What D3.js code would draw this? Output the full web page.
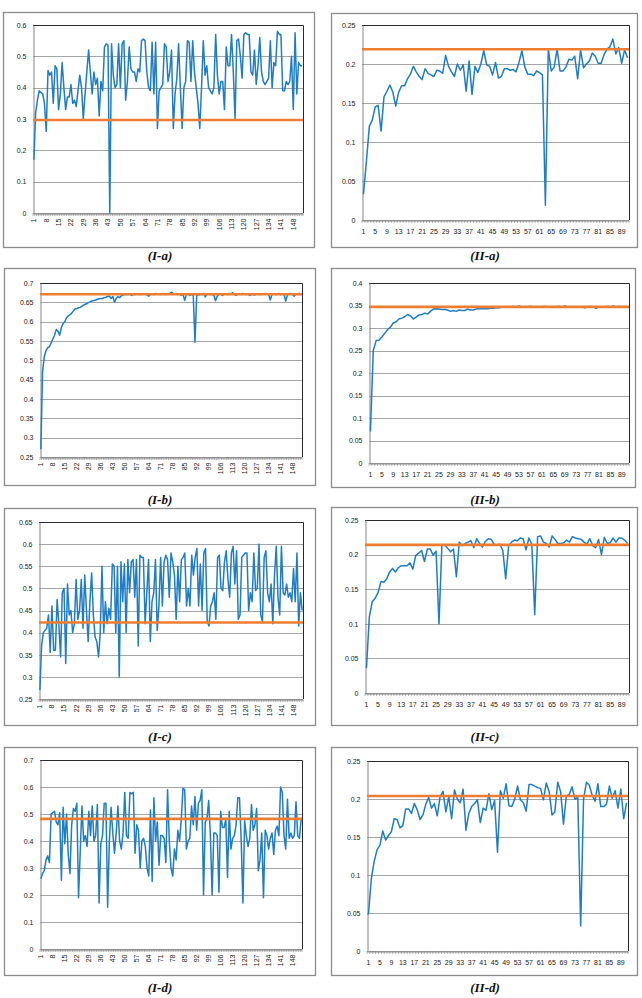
<!DOCTYPE html>
<html><head><meta charset="utf-8">
<script src="https://cdn.jsdelivr.net/npm/d3@7"></script>
<style>body{margin:0;background:#fff}svg{display:block}</style>
</head><body><svg id="c" width="642" height="998"></svg>
<script>
// ---------- DATA ----------
const iaValues=[0.17,0.32,0.36,0.39,0.385,0.38,0.35,0.26,0.455,0.44,
0.45,0.35,0.47,0.46,0.33,0.38,0.48,0.40,0.33,0.37,
0.37,0.41,0.35,0.36,0.34,0.39,0.44,0.40,0.30,0.38,
0.45,0.52,0.45,0.38,0.45,0.41,0.43,0.31,0.42,0.39,
0.53,0.54,0.535,0.0,0.54,0.44,0.40,0.41,0.54,0.40,
0.54,0.55,0.36,0.42,0.53,0.46,0.45,0.45,0.42,0.46,
0.45,0.55,0.555,0.55,0.45,0.40,0.39,0.545,0.38,0.545,
0.27,0.39,0.40,0.41,0.54,0.53,0.42,0.45,0.52,0.27,
0.38,0.43,0.54,0.40,0.27,0.40,0.42,0.55,0.545,0.42,
0.55,0.45,0.40,0.35,0.27,0.40,0.55,0.44,0.47,0.40,
0.39,0.38,0.40,0.57,0.44,0.38,0.42,0.42,0.33,0.53,
0.47,0.47,0.57,0.45,0.30,0.55,0.555,0.50,0.43,0.57,
0.575,0.57,0.57,0.45,0.44,0.52,0.41,0.47,0.56,0.45,
0.42,0.41,0.42,0.43,0.55,0.40,0.48,0.47,0.58,0.57,
0.57,0.39,0.39,0.42,0.41,0.42,0.50,0.33,0.575,0.38,
0.48,0.47,0.47];
const iaRef=0.297;

const iiaValues=[0.033,0.075,0.12,0.128,0.145,0.147,0.114,0.158,0.165,0.173,
0.164,0.146,0.164,0.172,0.172,0.181,0.187,0.197,0.190,0.184,
0.180,0.194,0.188,0.186,0.184,0.192,0.191,0.188,0.211,0.197,
0.190,0.184,0.200,0.192,0.199,0.165,0.204,0.161,0.197,0.189,
0.200,0.217,0.199,0.197,0.186,0.202,0.182,0.184,0.194,0.194,
0.192,0.193,0.190,0.202,0.217,0.196,0.187,0.187,0.185,0.191,
0.189,0.186,0.019,0.219,0.191,0.196,0.219,0.191,0.191,0.196,
0.206,0.205,0.210,0.181,0.218,0.195,0.200,0.204,0.214,0.210,
0.201,0.201,0.212,0.219,0.222,0.232,0.213,0.221,0.201,0.218,
0.208];
const iiaRef=0.219;

const ibValues=[0.27,0.47,0.51,0.525,0.533,0.535,0.545,0.555,0.565,0.58,
0.575,0.565,0.585,0.595,0.60,0.61,0.615,0.618,0.622,0.628,
0.633,0.634,0.636,0.637,0.64,0.643,0.645,0.647,0.65,0.652,
0.654,0.655,0.656,0.658,0.659,0.66,0.66,0.662,0.663,0.665,
0.666,0.66,0.665,0.65,0.66,0.665,0.662,0.667,
0.669,0.670,0.671,0.670,0.672,0.668,0.671,0.670,0.672,0.671,0.670,0.672,
0.671,0.673,0.669,0.666,0.671,0.672,0.670,0.673,0.671,0.672,0.670,0.673,
0.671,0.670,0.672,0.671,0.676,0.674,0.671,0.673,0.670,0.672,0.668,0.671,
0.655,0.670,0.672,0.668,0.671,0.667,0.547,0.668,0.669,0.671,0.670,0.673,
0.664,0.671,0.672,0.670,0.671,0.669,0.654,0.666,0.671,0.672,0.668,0.671,
0.672,0.670,0.673,0.671,0.675,0.670,0.668,0.671,0.672,0.670,0.673,0.671,
0.670,0.672,0.668,0.671,0.670,0.669,0.672,0.671,0.670,0.672,0.671,0.673,
0.672,0.670,0.656,0.671,0.672,0.670,0.671,0.673,0.670,0.672,0.671,0.653,
0.669,0.672,0.673,0.671,0.666,0.672,0.671,0.673,0.670];
const ibRef=0.671;

const iibValues=[0.07,0.25,0.272,0.273,0.28,0.288,0.296,0.302,0.311,0.314,
0.32,0.322,0.325,0.33,0.327,0.32,0.324,0.329,0.33,0.333,
0.331,0.337,0.342,0.343,0.342,0.341,0.341,0.340,0.337,0.339,
0.337,0.340,0.339,0.339,0.342,0.340,0.340,0.342,0.343,0.343,
0.343,0.343,0.344,0.344,0.345,
0.345,0.346,0.347,0.346,0.347,0.348,0.347,0.349,0.347,0.346,
0.347,0.348,0.347,0.346,0.347,0.347,0.348,0.347,0.346,0.347,
0.347,0.348,0.347,0.349,0.347,0.346,0.347,0.347,0.346,0.347,
0.345,0.347,0.348,0.347,0.344,0.347,0.346,0.347,0.348,0.347,
0.349,0.347,0.348,0.347,0.348,0.347];
const iibRef=0.347;

const icValues=[0.27,0.37,0.40,0.405,0.41,0.44,0.355,0.46,0.36,0.36,0.475,0.42,0.345,0.49,0.50,0.33,0.51,
0.44,0.45,0.40,0.42,0.52,0.43,0.45,0.52,0.41,0.53,
0.45,0.38,0.47,0.535,0.44,0.39,0.38,0.345,0.40,0.55,
0.40,0.47,0.42,0.455,0.43,0.555,0.55,0.40,0.55,0.30,
0.56,0.47,0.555,0.40,0.565,0.49,0.56,0.565,0.48,0.565,
0.37,0.575,0.57,0.57,0.42,0.49,0.565,0.38,0.47,
0.49,0.565,0.405,0.46,0.57,0.46,0.56,0.575,0.565,0.48,
0.58,0.56,0.53,0.43,0.55,0.47,0.565,0.57,0.58,0.46,
0.50,0.46,0.575,0.53,0.57,0.59,0.46,0.555,0.45,0.58,
0.59,0.425,0.415,0.46,0.47,0.49,0.43,0.57,0.575,0.50,
0.495,0.56,0.585,0.52,0.48,0.58,0.595,0.51,0.585,0.43,
0.44,0.57,0.575,0.58,0.58,0.45,0.49,0.47,0.58,0.495,
0.50,0.60,0.44,0.425,0.57,0.585,0.49,0.47,0.51,0.42,
0.53,0.595,0.48,0.44,0.595,0.49,0.485,0.51,0.48,0.49,
0.47,0.545,0.47,0.58,0.415,0.49,0.45];
const icRef=0.423;

const iicValues=[0.036,0.11,0.132,0.137,0.145,0.161,0.160,0.165,0.175,0.180,
0.175,0.181,0.184,0.184,0.184,0.188,0.179,0.199,0.202,0.206,
0.190,0.208,0.208,0.199,0.205,0.10,0.213,0.214,0.209,0.204,
0.208,0.168,0.218,0.213,0.216,0.218,0.220,0.210,0.223,0.216,
0.211,0.219,0.223,0.222,0.215,0.214,0.215,0.206,0.165,0.212,
0.218,0.221,0.220,0.224,0.223,0.207,0.224,0.215,0.113,0.226,
0.227,0.218,0.216,0.211,0.227,0.222,0.216,0.216,0.217,0.221,
0.218,0.226,0.224,0.223,0.222,0.218,0.215,0.223,0.213,0.210,
0.222,0.200,0.225,0.216,0.217,0.224,0.218,0.224,0.224,0.221,
0.216];
const iicRef=0.214;

const idValues=[0.26,0.28,0.29,0.33,0.345,0.32,0.50,0.505,0.51,0.47,
0.46,0.505,0.255,0.525,0.39,0.50,0.35,0.28,0.46,0.52,
0.51,0.54,0.19,0.36,0.53,0.40,0.42,0.38,0.51,0.42,
0.53,0.40,0.42,0.535,0.17,0.39,0.42,0.54,0.54,0.155,
0.40,0.525,0.43,0.355,0.43,0.53,0.40,0.37,0.43,0.58,
0.42,0.41,0.58,0.575,0.58,0.355,0.46,0.44,0.30,0.40,
0.41,0.38,0.30,0.27,0.515,0.25,0.56,0.40,0.47,0.31,
0.42,0.42,0.41,0.32,0.59,0.40,0.30,0.27,0.37,0.33,
0.44,0.40,0.48,0.595,0.59,0.37,0.40,0.41,0.53,0.46,
0.565,0.44,0.54,0.55,0.59,0.20,0.47,0.48,0.55,0.42,
0.20,0.43,0.43,0.42,0.21,0.51,0.45,0.45,0.48,0.265,
0.51,0.37,0.41,0.42,0.46,0.56,0.56,0.40,0.17,0.475,
0.42,0.38,0.41,0.535,0.44,0.46,0.52,0.29,0.33,0.43,
0.19,0.44,0.42,0.37,0.41,0.43,0.35,0.44,0.455,0.42,
0.60,0.58,0.42,0.37,0.555,0.41,0.43,0.41,0.42,0.545,
0.42,0.41,0.48];
const idRef=0.482;

const iidValues=[0.048,0.095,0.118,0.133,0.139,0.158,0.146,0.152,0.157,0.174,
0.173,0.162,0.165,0.187,0.187,0.181,0.194,0.186,0.173,0.179,
0.193,0.202,0.188,0.194,0.178,0.203,0.210,0.183,0.203,0.174,
0.212,0.200,0.195,0.213,0.159,0.181,0.190,0.194,0.199,0.169,
0.188,0.185,0.207,0.186,0.198,0.130,0.211,0.201,0.220,0.191,
0.190,0.200,0.217,0.199,0.195,0.184,0.219,0.219,0.217,0.215,
0.214,0.199,0.221,0.210,0.179,0.183,0.222,0.210,0.167,0.204,
0.206,0.216,0.200,0.202,0.033,0.200,0.222,0.218,0.205,0.197,
0.220,0.190,0.190,0.193,0.217,0.201,0.211,0.188,0.213,0.174,
0.195];
const iidRef=0.204;

const xLabelsI=["1","8","15","22","29","36","43","50","57","64","71","78","85","92","99","106","113","120","127","134","141","148"];
const xLabelsII=["1","5","9","13","17","21","25","29","33","37","41","45","49","53","57","61","65","69","73","77","81","85","89"];
const yTicksA=[0,0.1,0.2,0.3,0.4,0.5,0.6];
const yTicksIIa=[0,0.05,0.1,0.15,0.2,0.25];
const yTicksIb=[0.25,0.3,0.35,0.4,0.45,0.5,0.55,0.6,0.65,0.7];
const yTicksIIb=[0,0.05,0.1,0.15,0.2,0.25,0.3,0.35,0.4];
const yTicksIc=[0.25,0.3,0.35,0.4,0.45,0.5,0.55,0.6,0.65];
const yTicksId=[0,0.1,0.2,0.3,0.4,0.5,0.6,0.7];
const titles=["(I-a)","(II-a)","(I-b)","(II-b)","(I-c)","(II-c)","(I-d)","(II-d)"];

// ---------- LAYOUT ----------
const panels=[
 {title:titles[0],values:iaValues,ref:iaRef,yTicks:yTicksA,xLabels:xLabelsI,rotate:true,frame:[3,12,314,247],plot:[33,25,303,213],tx:160,ty:260},
 {title:titles[1],values:iiaValues,ref:iiaRef,yTicks:yTicksIIa,xLabels:xLabelsII,rotate:false,frame:[331,13,637,247],plot:[362,25,629,220],tx:485,ty:260},
 {title:titles[2],values:ibValues,ref:ibRef,yTicks:yTicksIb,xLabels:xLabelsI,rotate:true,frame:[4,268,315,485],plot:[40,283,302,457],tx:160,ty:504},
 {title:titles[3],values:iibValues,ref:iibRef,yTicks:yTicksIIb,xLabels:xLabelsII,rotate:false,frame:[331,268,635,487],plot:[369,283,629,463],tx:485,ty:504},
 {title:titles[4],values:icValues,ref:icRef,yTicks:yTicksIc,xLabels:xLabelsI,rotate:true,frame:[4,508,315,725],plot:[39,522,303,699],tx:160,ty:741},
 {title:titles[5],values:iicValues,ref:iicRef,yTicks:yTicksIIa,xLabels:xLabelsII,rotate:false,frame:[331,507,637,725],plot:[365,520,629,693],tx:485,ty:741},
 {title:titles[6],values:idValues,ref:idRef,yTicks:yTicksId,xLabels:xLabelsI,rotate:true,frame:[4,747,315,975],plot:[40,760,302,949],tx:160,ty:992},
 {title:titles[7],values:iidValues,ref:iidRef,yTicks:yTicksIIa,xLabels:xLabelsII,rotate:false,frame:[331,747,637,975],plot:[367,761,628,951],tx:485,ty:992}
];

const FONT="'Liberation Sans', Arial, sans-serif";
const svg=d3.select("#c");
svg.append("rect").attr("width",642).attr("height",998).attr("fill","#fff");

panels.forEach(p=>{
  const [fx0,fy0,fx1,fy1]=p.frame,[px0,py0,px1,py1]=p.plot;
  const g=svg.append("g");
  g.append("rect").attr("x",fx0+0.5).attr("y",fy0+0.5).attr("width",fx1-fx0).attr("height",fy1-fy0)
    .attr("fill","#fff").attr("stroke","#8c8c8c").attr("stroke-width",1.3);
  const cats=p.values.map((v,i)=>String(i+1));
  const x=d3.scaleBand().domain(cats).range([px0,px1]).padding(0);
  const y=d3.scaleLinear().domain([p.yTicks[0],p.yTicks[p.yTicks.length-1]]).range([py1,py0]);
  // gridlines
  g.append("g").selectAll("line").data(p.yTicks).join("line")
    .attr("x1",px0).attr("x2",px1)
    .attr("y1",d=>Math.round(y(d))+0.5).attr("y2",d=>Math.round(y(d))+0.5)
    .attr("stroke","#a6a6a6").attr("stroke-width",1);
  // plot border (top/right dark)
  g.append("path").attr("d",`M${px0},${py0+0.5}H${px1+0.5}V${py1}`)
    .attr("fill","none").attr("stroke","#2a2a2a").attr("stroke-width",1);
  // y axis
  const yg=g.append("g").attr("transform",`translate(${px0+0.5},0)`)
    .call(d3.axisLeft(y).tickValues(p.yTicks).tickSize(0).tickPadding(7).tickFormat(d=>String(+d.toFixed(2))));
  yg.select(".domain").attr("stroke","#868686");
  yg.selectAll("text").attr("font-family",FONT).attr("font-size",7).attr("fill","#222");
  // x axis
  const xg=g.append("g").attr("transform",`translate(0,${py1+0.5})`)
    .call(d3.axisBottom(x).tickValues(p.xLabels).tickSize(0).tickPadding(p.rotate?4:9));
  xg.select(".domain").attr("stroke","#868686");
  xg.selectAll("text").attr("font-family",FONT).attr("font-size",7).attr("fill","#222");
  if(p.rotate){
    xg.selectAll("text").attr("transform","rotate(-90)").attr("text-anchor","end")
      .attr("x",-5).attr("y",0).attr("dy","0.35em");
  }
  // minor ticks at category boundaries
  const bounds=cats.map(c=>x(c)).concat([px1]);
  g.append("g").selectAll("line").data(bounds).join("line")
    .attr("x1",d=>d).attr("x2",d=>d).attr("y1",py1).attr("y2",py1+3)
    .attr("stroke","#868686").attr("stroke-width",0.6);
  // series line
  const line=d3.line().x((d,i)=>x(cats[i])+x.bandwidth()/2).y(d=>y(d));
  g.append("path").datum(p.values).attr("d",line).attr("fill","none")
    .attr("stroke","#1f7dc4").attr("stroke-width",1.5).attr("stroke-linejoin","round");
  // reference line
  g.append("line").attr("x1",px0).attr("x2",px1).attr("y1",y(p.ref)).attr("y2",y(p.ref))
    .attr("stroke","#ed7d31").attr("stroke-width",2.6);
  // title
  svg.append("text").attr("x",p.tx).attr("y",p.ty).attr("text-anchor","middle")
    .attr("font-family","'Liberation Serif', 'Times New Roman', serif").attr("font-weight","bold")
    .attr("font-style","italic").attr("font-size",13).attr("fill","#111").text(p.title);
});
</script></body></html>
